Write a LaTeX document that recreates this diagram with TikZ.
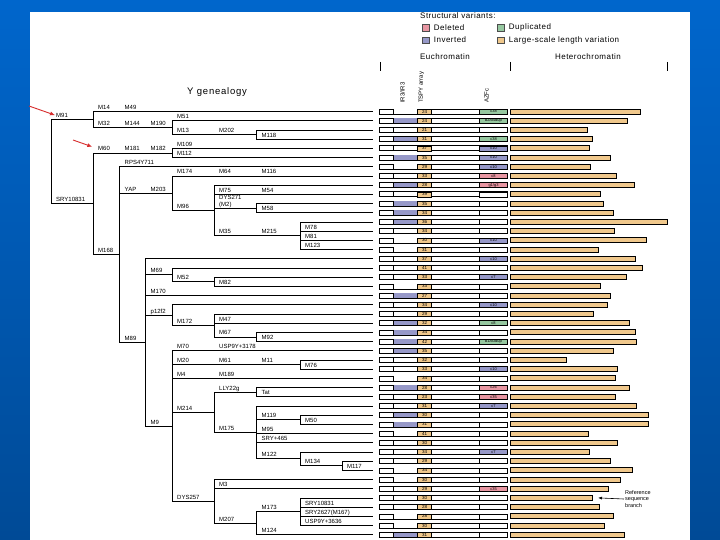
\documentclass[tikz,border=0pt]{standalone}
\usepackage{fontspec}
\setmainfont{Liberation Sans}
\usetikzlibrary{arrows.meta}
\usetikzlibrary{calc}
\usetikzlibrary{positioning}
\tikzset{>=latex}
\definecolor{slideblue}{RGB}{0,102,204}
\definecolor{slidedark}{RGB}{0,74,150}
\definecolor{delpink}{RGB}{232,150,162}
\definecolor{dupgreen}{RGB}{150,200,160}
\definecolor{invblue}{RGB}{150,152,200}
\definecolor{lentan}{RGB}{240,200,140}
\definecolor{arrowred}{RGB}{215,45,45}
\pgfmathdeclarefunction{ry}{1}{\pgfmathparse{111.5+9.2*#1}}

\begin{document}
\begin{tikzpicture}[x=1pt, y=-1pt,
  tree/.style={line width=0.75pt},
  lab/.style={font=\fontsize{6}{6}\selectfont, inner sep=0pt, anchor=base west},
  hdr/.style={font=\fontsize{8}{8}\selectfont\addfontfeatures{LetterSpace=6}, inner sep=0pt},
  colhdr/.style={font=\fontsize{6}{6}\selectfont, inner sep=0pt, rotate=90, anchor=west},
  key/.style={draw=black!70, line width=0.4pt, minimum width=7pt, minimum height=6.5pt, inner sep=0pt},
  tspy/.style={draw=black, line width=0.5pt, fill=lentan, minimum width=14pt, minimum height=5pt,
    inner sep=0pt, font=\fontsize{4.5}{4.5}\selectfont},
  azfc/.style={draw=black, line width=0.5pt, minimum width=28pt, minimum height=5pt,
    inner sep=0pt, font=\fontsize{4}{4}\selectfont},
  het/.style={draw=black, line width=0.7pt, fill=lentan},
  redarr/.style={arrowred, line width=0.9pt, -{Latex[length=5pt,width=4pt]}}]
  \useasboundingbox (0,0) rectangle (720,540);
  \shade[top color=slideblue, bottom color=slidedark] (0,0) rectangle (720,540);
  \fill[white] (30,12) rectangle (690,540);

  % columns of the genealogy
  \pgfmathsetmacro{\colA}{51}
  \pgfmathsetmacro{\colB}{93}
  \pgfmathsetmacro{\colC}{119.5}
  \pgfmathsetmacro{\colD}{145.5}
  \pgfmathsetmacro{\colE}{172}
  \pgfmathsetmacro{\colF}{214}
  \pgfmathsetmacro{\colG}{256.5}
  \pgfmathsetmacro{\colH}{300}
  \pgfmathsetmacro{\colI}{342}

  \node[font=\fontsize{9.5}{9.5}\selectfont\addfontfeatures{LetterSpace=8}, inner sep=0pt, anchor=west]
    (title) at (187,92) {Y genealogy};

  % leaf ends, one per row
  \foreach \i in {0,...,46}
    \coordinate (r\i) at (373,{ry(\i)});

  % branch points: name/column/row
  \foreach \n/\x/\r in {root/\colA/5.449, bA/\colB/0.875, bM22/\colE/1.75, bM13/\colG/2.5,
    bSRY/\colB/10.023, bM60/\colE/4.5, bM168/\colC/15.547, bYAP/\colE/8.875, bM96/\colF/10.75,
    bM2/\colG/10.5, bM35/\colH/13.5, bM89/\colD/25.094, bM69/\colE/17.75, bM52/\colF/18.5,
    bp12f/\colE/22.125, bM172/\colF/23.25, bM67/\colG/24.5, bM9/\colE/34.1875, bM20/\colH/27.5,
    bM214/\colF/32.6875, bLLY/\colG/30.5, bM175/\colG/34.875, bM119/\colH/33.5,
    bM122/\colH/37.75, bM134/\colI/38.5, bDYS/\colF/42.375, bM207/\colG/44.75, bM173/\colH/43.5}
    \coordinate (\n) at (\x,{ry(\r)});

  % branches
  \foreach \p/\c in {root/bA, root/bSRY, bA/r0, bA/bM22, bM22/r1, bM22/bM13, bM13/r2, bM13/r3,
    bSRY/bM60, bSRY/bM168, bM60/r4, bM60/r5,
    bM168/r6, bM168/bYAP, bM168/bM89,
    bYAP/r7, bYAP/bM96, bM96/r8, bM96/r9, bM96/bM2, bM96/bM35, bM2/r10, bM2/r11,
    bM35/r12, bM35/r13, bM35/r14, bM35/r15,
    bM89/r16, bM89/bM69, bM89/r20, bM89/bp12f, bM89/bM9,
    bM69/r17, bM69/bM52, bM52/r18, bM52/r19,
    bp12f/r21, bp12f/bM172, bM172/r22, bM172/r23, bM172/bM67, bM67/r24, bM67/r25,
    bM9/r26, bM9/bM20, bM9/r29, bM9/bM214, bM9/bDYS, bM20/r27, bM20/r28,
    bM214/bLLY, bM214/bM175, bLLY/r30, bLLY/r31,
    bM175/r32, bM175/bM119, bM175/r35, bM175/r36, bM175/bM122,
    bM119/r33, bM119/r34, bM122/r37, bM122/bM134, bM134/r38, bM134/r39,
    bDYS/r40, bDYS/r41, bDYS/bM207, bM207/bM173, bM207/r46,
    bM173/r42, bM173/r43, bM173/r44, bM173/r45}
    \draw[tree] (\p) |- (\c);

  % markers on the branches: name/column/row/text
  \foreach \n/\x/\r/\t in {l-M91/\colA/0.875/M91, l-SRYa/\colA/10.023/SRY10831,
    l-M14/\colB/0/M14, l-M49/\colC/0/M49,
    l-M32/\colB/1.75/M32, l-M144/\colC/1.75/M144, l-M190/\colD/1.75/M190,
    l-M51/\colE/1/M51, l-M13/\colE/2.5/M13, l-M202/\colF/2.5/M202, l-M118/\colG/3/M118,
    l-M60/\colB/4.5/M60, l-M181/\colC/4.5/M181, l-M182/\colD/4.5/M182,
    l-M109/\colE/4/M109, l-M112/\colE/5/M112,
    l-RPS/\colC/6/RPS4Y711, l-M168/\colB/15.547/M168,
    l-YAP/\colC/8.875/YAP, l-M203/\colD/8.875/M203,
    l-M174/\colE/7/M174, l-M64/\colF/7/M64, l-M116/\colG/7/M116,
    l-M96/\colE/10.75/M96, l-M75/\colF/9/M75, l-M54/\colG/9/M54, l-M58/\colG/11/M58,
    l-M35/\colF/13.5/M35, l-M215/\colG/13.5/M215,
    l-M78/\colH/13/M78, l-M81/\colH/14/M81, l-M123/\colH/15/M123,
    l-M89/\colC/25.094/M89,
    l-M69/\colD/17.75/M69, l-M52/\colE/18.5/M52, l-M82/\colF/19/M82,
    l-M170/\colD/20/M170, l-p12f/\colD/22.125/p12f2,
    l-M172/\colE/23.25/M172, l-M47/\colF/23/M47, l-M67/\colF/24.5/M67, l-M92/\colG/25/M92,
    l-M9/\colD/34.1875/M9,
    l-M70/\colE/26/M70, l-USPa/\colF/26/USP9Y+3178,
    l-M20/\colE/27.5/M20, l-M61/\colF/27.5/M61, l-M11/\colG/27.5/M11, l-M76/\colH/28/M76,
    l-M4/\colE/29/M4, l-M189/\colF/29/M189,
    l-M214/\colE/32.6875/M214, l-LLY/\colF/30.5/LLY22g, l-Tat/\colG/31/Tat,
    l-M175/\colF/34.875/M175, l-M119/\colG/33.5/M119, l-M50/\colH/34/M50,
    l-M95/\colG/35/M95, l-SRY465/\colG/36/SRY+465,
    l-M122/\colG/37.75/M122, l-M134/\colH/38.5/M134, l-M117/\colI/39/M117,
    l-DYS257/\colE/42.375/DYS257, l-M3/\colF/41/M3,
    l-M207/\colF/44.75/M207, l-M173/\colG/43.5/M173,
    l-SRYb/\colH/43/SRY10831, l-M167/\colH/44/SRY2627(M167), l-USPb/\colH/45/USP9Y+3636,
    l-M124/\colG/46/M124}
    \node[lab] (\n) at ({\x+5},{ry(\r)-2}) {\t};
  \node[lab] (l-DYS271) at ({\colF+5},{ry(10.5)-8.5}) {DYS271};
  \node[lab] (l-M2) at ({\colF+5},{ry(10.5)-2}) {(M2)};

  % arrows to the two root markers
  \coordinate (redA) at (29,106);
  \coordinate (redB) at (73,140);
  \draw[redarr, shorten >=1pt] (redA) -- (l-M91.west);
  \draw[redarr, shorten >=6pt] (redB) -- (l-M60.west);

  % legend
  \node[hdr, anchor=west] (legend) at (420,16) {Structural variants:};
  \node[key, fill=delpink] (kdel) at (426,27.5) {};
  \node[hdr, right=4pt of kdel] (tdel) {Deleted};
  \node[key, fill=dupgreen] (kdup) at (501,27.5) {};
  \node[hdr, right=4pt of kdup] (tdup) {Duplicated};
  \node[key, fill=invblue] (kinv) at (426,40) {};
  \node[hdr, right=4pt of kinv] (tinv) {Inverted};
  \node[key, fill=lentan] (klen) at (501,40) {};
  \node[hdr, right=4pt of klen] (tlen) {Large-scale length variation};

  % column heads
  \node[hdr] (euhdr) at (445,56.5) {Euchromatin};
  \node[hdr] (hethdr) at (588,56.5) {Heterochromatin};
  \foreach \x in {380,510,667}
    \draw[line width=0.8pt] (\x,62) -- (\x,71);
  \node[colhdr] (hinv) at (402.5,103) {IR3/IR3};
  \node[colhdr] (htspy) at (421.5,103) {TSPY array};
  \node[colhdr] (hazfc) at (486.5,103) {AZFc};

  % one row per Y chromosome: row/inversion/TSPY copies/AZFc fill/AZFc text/end of heterochromatin
  \foreach \i/\inv/\ts/\az/\azt/\het in {
    0/white/24/dupgreen/c38/640, 1/invblue/24/dupgreen/b2\slash b4dup/627.3,
    2/white/21/white//587.3, 3/invblue/31/dupgreen/c38/592,
    4/white/37/invblue/c10/589.3, 5/invblue/35/invblue/c10/610.3,
    6/white/29/invblue/c10/590.3, 7/white/33/delpink/c8/616.7,
    8/invblue/28/delpink/g1\slash g3/634.7, 9/white/39/white//600.3,
    10/invblue/35/white//603, 11/invblue/34/white//613,
    12/invblue/36/white//667.3, 13/white/34/white//614.3,
    14/white/30/invblue/c10/646.3, 15/white/31/white//598,
    16/white/37/invblue/c10/635, 17/white/41/white//642.3,
    18/white/33/invblue/c7/626.3, 19/white/33/white//600.3,
    20/invblue/27/white//610.3, 21/white/34/invblue/c10/607.7,
    22/white/29/white//593.3, 23/invblue/32/dupgreen/c8/629,
    24/invblue/34/white//635, 25/invblue/42/dupgreen/b1\slash b3dup/636.3,
    26/invblue/35/white//613.3, 27/white/32/white//566,
    28/white/33/invblue/c10/617.3, 29/white/34/white//615.7,
    30/invblue/28/delpink/c26/629, 31/white/23/delpink/c35/615.7,
    32/white/31/invblue/c7/636.3, 33/invblue/30/white//648.3,
    34/invblue/31/white//648.3, 35/white/41/white//588.3,
    36/white/30/white//617.3, 37/white/34/invblue/c7/589.3,
    38/white/29/white//610.3, 39/white/34/white//632.7,
    40/white/30/white//620.3, 41/white/29/delpink/c35/608.3,
    42/white/30/white//592.3, 43/white/28/white//599.3,
    44/white/28/white//613.3, 45/white/30/white//604.3,
    46/invblue/31/white//624.3}
  {
    \draw[line width=0.6pt, fill=white] (379.5,{ry(\i)-2.5}) rectangle (507.5,{ry(\i)+2.5});
    \fill[\inv] (393.5,{ry(\i)-2.2}) rectangle (417.5,{ry(\i)+2.2});
    \draw[line width=0.6pt] (393.5,{ry(\i)-2.5}) -- (393.5,{ry(\i)+2.5});
    \node[tspy] (t\i) at (424.5,{ry(\i)}) {\ts};
    \node[azfc, fill=\az] (z\i) at (493.5,{ry(\i)}) {\azt};
    \draw[het] (510,{ry(\i)-2.5}) rectangle (\het,{ry(\i)+2.5});
  }

  % reference sequence
  \node[font=\fontsize{5.5}{6.5}\selectfont, align=left, inner sep=1pt, anchor=west]
    (refnote) at (624,499) {Reference\\sequence\\branch};
  \coordinate (refpt) at (598,{ry(42)});
  \draw[-{Latex[length=4pt,width=3pt]}, line width=0.6pt] (refnote.west) -- (refpt);
\end{tikzpicture}
\end{document}
